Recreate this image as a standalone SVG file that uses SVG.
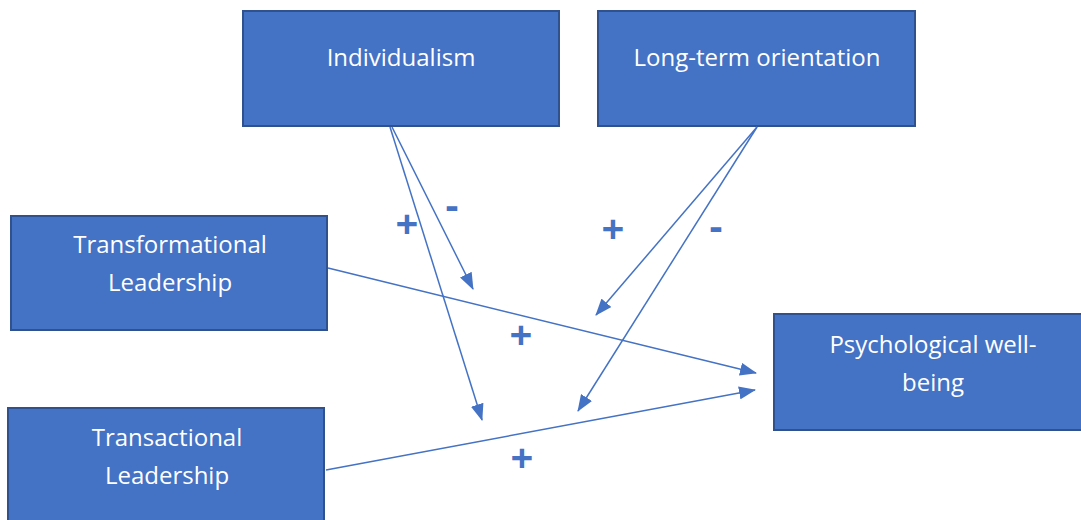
<svg xmlns="http://www.w3.org/2000/svg" width="1081" height="520" viewBox="0 0 1081 520">
<style>
.box{fill:#4472C4;stroke:#2F528F;stroke-width:2}
.t{fill:#ffffff;font-family:"Open Sans","Liberation Sans",sans-serif;font-size:24px;text-anchor:middle}
.c{stroke:#4472C4;stroke-width:1.5;fill:none;marker-end:url(#ah)}
.s{fill:#4472C4;font-family:"Open Sans","Liberation Sans",sans-serif;font-size:40px;font-weight:bold;text-anchor:middle}
</style>
<defs>
<marker id="ah" viewBox="0 0 17 13" refX="16" refY="6.5" markerWidth="17" markerHeight="13" markerUnits="userSpaceOnUse" orient="auto">
<path d="M0,0 L17,6.5 L0,13 Z" fill="#4472C4"/>
</marker>
</defs>
<rect width="1081" height="520" fill="#ffffff"/>
<g id="individualism"><rect class="box" x="243" y="11" width="316" height="115"/><text class="t" x="401" y="66">Individualism</text></g>
<g id="longterm"><rect class="box" x="598" y="11" width="317" height="115"/><text class="t" x="757" y="66">Long-term orientation</text></g>
<g id="transformational"><rect class="box" x="11" y="216" width="316" height="114"/><text class="t" x="170" y="253">Transformational</text><text class="t" x="170" y="291">Leadership</text></g>
<g id="transactional"><rect class="box" x="8" y="408" width="316" height="120"/><text class="t" x="167" y="446">Transactional</text><text class="t" x="167" y="484">Leadership</text></g>
<g id="wellbeing"><rect class="box" x="774" y="314" width="320" height="116"/><text class="t" x="933" y="353">Psychological well-</text><text class="t" x="933" y="391">being</text></g>
<g id="connectors">
<line class="c" x1="390" y1="127" x2="482" y2="420"/>
<line class="c" x1="392" y1="127" x2="473" y2="289"/>
<line class="c" x1="757" y1="127" x2="596" y2="315"/>
<line class="c" x1="757" y1="127" x2="578" y2="411"/>
<line class="c" x1="328" y1="268" x2="756" y2="373"/>
<line class="c" x1="326" y1="470" x2="755" y2="390"/>
</g>
<g id="labels">
<text class="s" x="407" y="238">+</text>
<text class="s" x="452" y="219">-</text>
<text class="s" x="613" y="243">+</text>
<text class="s" x="716" y="240">-</text>
<text class="s" x="521" y="349">+</text>
<text class="s" x="522" y="472">+</text>
</g>
</svg>
